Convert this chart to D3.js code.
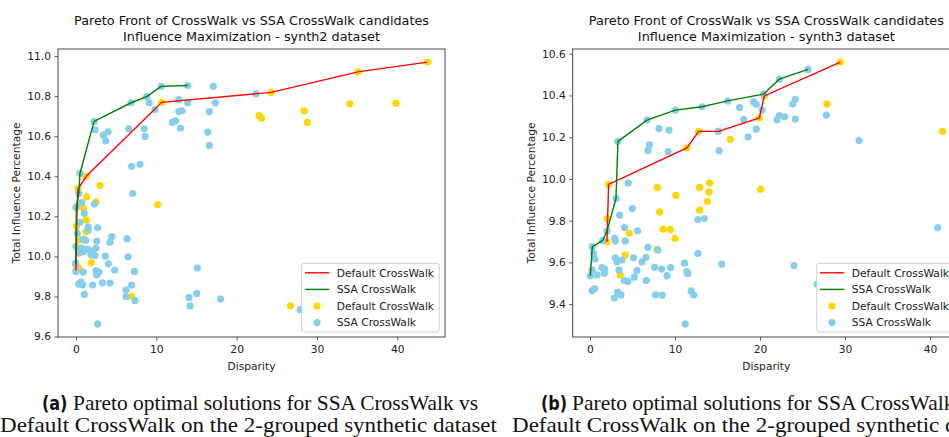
<!DOCTYPE html>
<html>
<head>
<meta charset="utf-8">
<script src="https://cdn.jsdelivr.net/npm/d3@7"></script>
<style>
  body { margin: 0; background: #fff; }
  svg { display: block; }
</style>
</head>
<body>
<svg id="fig" width="949" height="437"></svg>
<script>
// ---------- synth2 dataset: candidate solutions [disparity, influence %] ----------
const synth2Default = [
  [10.67,10.769],[1.28,10.40],[0.25,10.337],[2.99,10.355],[1.33,10.297],[24.3,10.819],
  [35.1,10.921],[43.75,10.970],[22.8,10.703],[23.1,10.690],[28.4,10.727],[28.8,10.669],
  [34.1,10.762],[39.85,10.765],[2.49,10.272],[10.17,10.259],[0.91,10.24],[1.25,10.182],
  [1.25,10.123],[0.5,10.082],[1.9,9.969],[0.37,9.941],[6.93,9.80],[26.7,9.753],
  [0.0,9.93],[0.08,10.15],[0.15,10.25]
];
const synth2Ssa = [
  [10.6,10.849],[13.9,10.853],[17.1,10.849],[6.85,10.767],[8.8,10.798],[9.1,10.767],
  [9.84,10.733],[12.8,10.783],[13.9,10.767],[12.8,10.723],[13.2,10.727],[12.0,10.669],
  [12.4,10.677],[13.0,10.640],[17.35,10.767],[16.6,10.723],[16.4,10.620],[16.6,10.554],
  [2.24,10.674],[2.37,10.632],[3.4,10.605],[4.0,10.622],[3.7,10.576],[6.56,10.637],
  [8.5,10.637],[8.6,10.599],[6.93,10.450],[7.97,10.460],[7.06,10.314],[0.5,10.414],
  [22.4,10.811],[0.35,10.314],[0.0,10.245],[2.28,10.261],[0.71,10.268],[1.03,10.215],
  [0.5,10.17],[2.7,10.143],[1.53,10.148],[1.53,10.132],[0.17,10.115],[0.91,10.086],
  [1.2,10.080],[2.58,10.077],[4.45,10.099],[4.23,10.071],[6.35,10.087],[0.0,10.049],
  [0.71,10.041],[0.91,10.024],[1.41,10.036],[1.95,10.027],[2.49,10.041],[1.87,10.008],
  [2.37,10.004],[0.41,10.016],[3.65,10.001],[6.48,9.998],[4.03,9.963],[-0.05,9.966],
  [0.0,9.925],[0.91,9.922],[2.49,9.928],[2.86,9.922],[2.58,9.908],[4.82,9.932],
  [7.27,9.925],[0.33,9.862],[0.62,9.872],[0.83,9.858],[2.08,9.857],[3.28,9.868],
  [4.23,9.867],[6.93,9.857],[6.23,9.832],[6.23,9.799],[7.35,9.78],[1.03,9.81],
  [2.7,9.663],[14.07,9.795],[14.2,9.753],[15.03,9.815],[15.1,9.943],[18.0,9.787],
  [27.9,9.734],[-0.05,9.96],[0.05,10.245]
];
// Pareto fronts (lowest disparity, highest influence)
const synth2DefaultFront = [
  [0.0,9.93],[0.08,10.15],[0.15,10.25],[0.25,10.337],[1.28,10.40],[10.67,10.769],
  [24.3,10.819],[35.1,10.921],[43.75,10.970]
];
const synth2SsaFront = [
  [-0.05,9.96],[0.0,10.049],[0.05,10.245],[0.35,10.314],[0.5,10.414],[2.24,10.674],
  [6.85,10.767],[8.8,10.798],[10.6,10.849],[13.9,10.853]
];

// ---------- synth3 dataset ----------
const synth3Default = [
  [2.19,9.974],[11.4,10.149],[12.78,10.228],[15.13,10.228],[16.5,10.19],[7.92,9.959],
  [10.1,9.921],[12.9,9.959],[14.07,9.98],[14.0,9.937],[29.45,10.56],[27.88,10.359],
  [20.07,9.951],[41.45,10.228],[19.92,10.292],[20.5,10.398],[2.0,9.81],[2.0,9.699],
  [4.62,9.739],[4.15,9.635],[3.56,9.54],[8.19,9.842],[8.59,9.759],[9.45,9.758],
  [10.0,9.715],[7.88,9.662],[12.9,9.85],[13.8,9.893]
];
const synth3Ssa = [
  [3.29,10.18],[6.7,10.282],[8.12,10.242],[9.3,10.234],[10.04,10.33],[13.18,10.346],
  [16.2,10.374],[7.0,10.163],[6.82,10.136],[9.2,10.131],[15.2,10.136],[15.06,10.228],
  [4.5,9.98],[3.06,9.906],[17.6,10.342],[19.25,10.369],[19.56,10.358],[20.24,10.33],
  [18.07,10.284],[19.56,10.239],[18.6,10.201],[22.27,10.478],[25.65,10.525],[23.84,10.359],
  [24.15,10.382],[22.0,10.284],[22.27,10.304],[22.9,10.298],[24.15,10.287],[27.8,10.306],
  [31.65,10.184],[20.4,10.406],[15.5,9.592],[24.0,9.584],[26.7,9.495],[40.9,9.767],
  [3.49,9.826],[4.98,9.858],[4.07,9.767],[5.6,9.751],[2.0,9.75],[2.9,9.715],
  [2.98,9.702],[4.15,9.703],[0.28,9.675],[0.43,9.643],[0.58,9.616],[0.24,9.564],
  [0.04,9.535],[0.82,9.54],[1.41,9.575],[1.72,9.568],[1.68,9.548],[2.98,9.622],
  [3.18,9.603],[3.76,9.611],[3.41,9.564],[4.03,9.513],[4.47,9.508],[5.21,9.529],
  [5.13,9.622],[5.53,9.56],[6.12,9.603],[6.59,9.624],[6.82,9.672],[6.62,9.513],
  [8.0,9.659],[7.6,9.576],[8.43,9.568],[9.06,9.536],[9.49,9.575],[7.72,9.444],
  [8.5,9.443],[0.24,9.465],[0.54,9.473],[2.86,9.429],[3.25,9.457],[3.65,9.444],
  [11.13,9.596],[11.4,9.556],[11.5,9.545],[11.9,9.463],[12.2,9.444],[11.2,9.305],
  [12.7,9.805],[13.45,9.81],[12.7,9.643],[1.5,9.705]
];
const synth3DefaultFront = [
  [2.0,9.699],[2.19,9.974],[11.4,10.149],[12.78,10.228],[15.13,10.228],[19.92,10.292],
  [20.5,10.398],[29.45,10.56]
];
const synth3SsaFront = [
  [0.04,9.535],[0.28,9.675],[1.5,9.705],[2.0,9.75],[3.06,9.906],[3.29,10.18],
  [6.7,10.282],[10.04,10.33],[13.18,10.346],[16.2,10.374],[20.4,10.406],[22.27,10.478],
  [25.65,10.525]
];

// ---------- tick labels and text ----------
const xTicks = [0, 10, 20, 30, 40];
const synth2YTicks = [9.6, 9.8, 10.0, 10.2, 10.4, 10.6, 10.8, 11.0];
const synth3YTicks = [9.4, 9.6, 9.8, 10.0, 10.2, 10.4, 10.6];
const titleLine1 = "Pareto Front of CrossWalk vs SSA CrossWalk candidates";
const legendLabels = ["Default CrossWalk", "SSA CrossWalk", "Default CrossWalk", "SSA CrossWalk"];

const COLORS = { defaultLine: "red", ssaLine: "green", defaultPt: "gold", ssaPt: "skyblue" };
const FONT = "'DejaVu Sans', sans-serif";

const svg = d3.select("#fig");

// matplotlib-style autoscale: data extent padded by 5% each side
function padded(values) {
  const [lo, hi] = d3.extent(values);
  const m = (hi - lo) * 0.05;
  return [lo - m, hi + m];
}

function drawPanel(p) {
  const all = [...p.def, ...p.ssa, ...p.defFront, ...p.ssaFront];
  const x = d3.scaleLinear().domain(padded(all.map(d => d[0]))).range([p.left, p.right]);
  const y = d3.scaleLinear().domain(padded(all.map(d => d[1]))).range([p.bottom, p.top]);

  const g = svg.append("g");

  // title
  const cx = (p.left + p.right) / 2;
  g.append("text").attr("x", cx).attr("y", 25).attr("text-anchor", "middle")
    .style("font", `12.8px ${FONT}`).attr("fill", "#111").text(titleLine1);
  g.append("text").attr("x", cx).attr("y", 40.5).attr("text-anchor", "middle")
    .style("font", `12.8px ${FONT}`).attr("fill", "#111").text(p.title2);

  // scatter: default first, SSA on top
  g.append("g").selectAll("circle").data(p.def).join("circle")
    .attr("cx", d => x(d[0])).attr("cy", d => y(d[1])).attr("r", 3.6).attr("fill", COLORS.defaultPt);
  g.append("g").selectAll("circle").data(p.ssa).join("circle")
    .attr("cx", d => x(d[0])).attr("cy", d => y(d[1])).attr("r", 3.6).attr("fill", COLORS.ssaPt);

  // fronts
  const line = d3.line().x(d => x(d[0])).y(d => y(d[1]));
  g.append("path").attr("d", line(p.defFront)).attr("fill", "none")
    .attr("stroke", COLORS.defaultLine).attr("stroke-width", 1.4);
  g.append("path").attr("d", line(p.ssaFront)).attr("fill", "none")
    .attr("stroke", COLORS.ssaLine).attr("stroke-width", 1.4);

  // axes
  const xAxis = d3.axisBottom(x).tickValues(xTicks).tickSize(3.5).tickPadding(4.5).tickSizeOuter(0)
    .tickFormat(d3.format("d"));
  const yAxis = d3.axisLeft(y).tickValues(p.yTicks).tickSize(3.5).tickPadding(3.5).tickSizeOuter(0)
    .tickFormat(d3.format(".1f"));
  const gx = g.append("g").attr("transform", `translate(0,${p.bottom})`).call(xAxis);
  const gy = g.append("g").attr("transform", `translate(${p.left},0)`).call(yAxis);
  [gx, gy].forEach(a => {
    a.select(".domain").remove();
    a.selectAll(".tick line").attr("stroke", "#333").attr("stroke-width", 0.8);
    a.selectAll(".tick text").attr("fill", "#222").style("font", `10.7px ${FONT}`);
  });

  // frame
  g.append("rect").attr("x", p.left).attr("y", p.top)
    .attr("width", p.right - p.left).attr("height", p.bottom - p.top)
    .attr("fill", "none").attr("stroke", "#333").attr("stroke-width", 0.9);

  // axis labels
  g.append("text").attr("x", cx).attr("y", 370).attr("text-anchor", "middle")
    .style("font", `10.7px ${FONT}`).attr("fill", "#222").text("Disparity");
  g.append("text").attr("transform", `translate(${p.ylabelX},${(p.top + p.bottom) / 2}) rotate(-90)`)
    .attr("text-anchor", "middle").style("font", `10.7px ${FONT}`).attr("fill", "#222")
    .text("Total Influence Percentage");

  // legend (lower right)
  const lw = 137.6, lh = 68.7;
  const lx = p.right - 5.7 - lw, ly = p.bottom - 5 - lh;
  const lg = g.append("g").attr("transform", `translate(${lx},${ly})`);
  lg.append("rect").attr("width", lw).attr("height", lh).attr("rx", 2.5)
    .attr("fill", "#fff").attr("fill-opacity", 0.8).attr("stroke", "#ccc").attr("stroke-width", 0.9);
  const kinds = ["line", "line", "dot", "dot"];
  const cols = [COLORS.defaultLine, COLORS.ssaLine, COLORS.defaultPt, COLORS.ssaPt];
  legendLabels.forEach((lab, i) => {
    const yy = 9.5 + i * 16.6;
    if (kinds[i] === "line") {
      lg.append("line").attr("x1", 3.3).attr("x2", 27.5).attr("y1", yy).attr("y2", yy)
        .attr("stroke", cols[i]).attr("stroke-width", 1.4);
    } else {
      lg.append("circle").attr("cx", 15.3).attr("cy", yy).attr("r", 3.6).attr("fill", cols[i]);
    }
    lg.append("text").attr("x", 35).attr("y", yy + 3.9)
      .style("font", `10.7px ${FONT}`).attr("fill", "#222").text(lab);
  });
}

drawPanel({
  left: 58, right: 445, top: 49, bottom: 337, ylabelX: 19.5,
  def: synth2Default, ssa: synth2Ssa, defFront: synth2DefaultFront, ssaFront: synth2SsaFront,
  yTicks: synth2YTicks, title2: "Influence Maximization - synth2 dataset"
});
drawPanel({
  left: 572.7, right: 960, top: 49, bottom: 337, ylabelX: 535,
  def: synth3Default, ssa: synth3Ssa, defFront: synth3DefaultFront, ssaFront: synth3SsaFront,
  yTicks: synth3YTicks, title2: "Influence Maximization - synth3 dataset"
});

// ---------- sub-figure captions (page continues past the right edge) ----------
const captions = [
  { tagX: 42, x1: 73, w1: 405, x2: 0, w2: 497, tag: "(a)" },
  { tagX: 541, x1: 572, w1: 407, x2: 512, w2: 497, tag: "(b)" }
];
const captionLine1 = "Pareto optimal solutions for SSA CrossWalk vs";
const captionLine2 = "Default CrossWalk on the 2-grouped synthetic dataset";
const SERIF = "'Liberation Serif', 'DejaVu Serif', serif";
captions.forEach(c => {
  // sub-figure tag in a condensed bold sans
  svg.append("text").attr("transform", `translate(${c.tagX},410) scale(0.8,1)`)
    .style("font", `bold 20px ${FONT}`).attr("fill", "#111").text(c.tag);
  svg.append("text").attr("x", c.x1).attr("y", 410)
    .attr("textLength", c.w1).attr("lengthAdjust", "spacingAndGlyphs")
    .style("font", `21px ${SERIF}`).attr("fill", "#111").text(captionLine1);
  svg.append("text").attr("x", c.x2).attr("y", 432)
    .attr("textLength", c.w2).attr("lengthAdjust", "spacingAndGlyphs")
    .style("font", `21px ${SERIF}`).attr("fill", "#111").text(captionLine2);
});
</script>
</body>
</html>
